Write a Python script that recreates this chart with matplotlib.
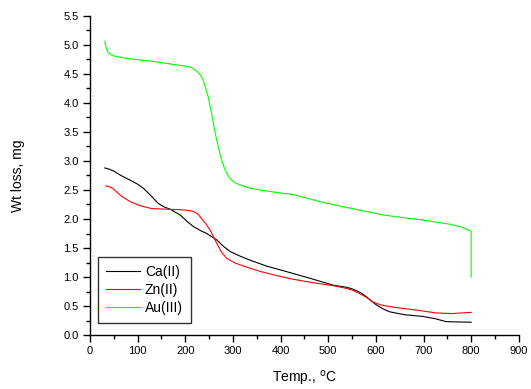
import numpy as np
import matplotlib
matplotlib.use('Agg')
from matplotlib import pyplot as plt
from matplotlib.ticker import MultipleLocator

plt.rcParams['font.family'] = ['Liberation Sans', 'DejaVu Sans']

# Ca(II)
ca_t = [31, 40, 49, 65, 84, 100, 112, 128, 143, 155, 168, 189, 205, 217, 232, 245, 266,
        280, 294, 315, 336, 370, 405, 461, 510, 540, 552, 568, 580, 590, 601, 615, 629,
        660, 699, 725, 748, 800]
ca_w = [2.88, 2.86, 2.83, 2.75, 2.67, 2.6, 2.53, 2.4, 2.27, 2.21, 2.17, 2.07, 1.95, 1.87,
        1.8, 1.75, 1.64, 1.53, 1.44, 1.36, 1.29, 1.19, 1.11, 0.98, 0.86, 0.82, 0.79, 0.73,
        0.66, 0.59, 0.52, 0.45, 0.40, 0.35, 0.32, 0.28, 0.23, 0.22]

# Zn(II)
zn_t = [33, 40, 49, 65, 84, 105, 129, 160, 189, 205, 217, 226, 234, 243, 252, 259, 266,
        276, 287, 305, 329, 360, 399, 427, 470, 510, 535, 552, 565, 580, 594, 610, 629,
        655, 685, 727, 760, 800]
zn_w = [2.57, 2.56, 2.52, 2.4, 2.30, 2.23, 2.18, 2.17, 2.16, 2.15, 2.13, 2.09, 2.01, 1.92,
        1.81, 1.7, 1.58, 1.43, 1.32, 1.24, 1.17, 1.09, 1.01, 0.96, 0.9, 0.85, 0.81, 0.77,
        0.72, 0.65, 0.57, 0.52, 0.49, 0.46, 0.43, 0.38, 0.37, 0.39]

# Au(III)
au_t = [31, 33, 35, 38, 44, 55, 84, 130, 170, 189, 205, 215, 224, 231, 236, 240, 244, 248,
        252, 257, 261, 266, 271, 277, 282, 287, 293, 300, 308, 315, 325, 336, 365, 399, 427,
        450, 482, 520, 550, 615, 660, 700, 755, 780, 797, 800, 800]
au_w = [5.06, 4.98, 4.92, 4.87, 4.83, 4.8, 4.76, 4.72, 4.67, 4.65, 4.63, 4.6, 4.55, 4.49,
        4.42, 4.33, 4.22, 4.11, 3.95, 3.75, 3.55, 3.36, 3.18, 3.0, 2.88, 2.79, 2.71, 2.65,
        2.61, 2.59, 2.56, 2.53, 2.49, 2.45, 2.42, 2.37, 2.3, 2.23, 2.18, 2.07, 2.02, 1.98,
        1.91, 1.86, 1.8, 1.79, 1.0]

fig = plt.figure(figsize=(5.31, 3.89), dpi=100)
ax = fig.add_axes([0.1695, 0.1388, 0.8075, 0.8201])

ax.plot(ca_t, ca_w, color='black', lw=0.8, label='Ca(II)')
ax.plot(zn_t, zn_w, color='#ff0000', lw=0.8, label='Zn(II)')
ax.plot(au_t, au_w, color='#00ff00', lw=0.8, label='Au(III)')

ax.set_xlim(0, 900)
ax.set_ylim(0, 5.5)
ax.xaxis.set_major_locator(MultipleLocator(100))
ax.xaxis.set_minor_locator(MultipleLocator(50))
ax.yaxis.set_major_locator(MultipleLocator(0.5))
ax.yaxis.set_minor_locator(MultipleLocator(0.25))
ax.yaxis.set_major_formatter(matplotlib.ticker.FormatStrFormatter('%.1f'))

ax.spines['top'].set_visible(False)
ax.spines['right'].set_visible(False)
for s in ['left', 'bottom']:
    ax.spines[s].set_linewidth(1.0)
ax.tick_params(which='major', direction='out', length=5, width=1.0, labelsize=8, pad=3)
ax.tick_params(which='minor', direction='out', length=3, width=1.0)

ax.set_xlabel('Temp., $^\\mathrm{o}$C', fontsize=10, labelpad=9)
ax.set_ylabel('Wt loss, mg', fontsize=10, labelpad=28)

leg = ax.legend(loc='lower left', bbox_to_anchor=(0.0, 0.012), fontsize=10,
                frameon=True, fancybox=False, handlelength=2.45, borderpad=0.55,
                labelspacing=0.3, handletextpad=0.35, borderaxespad=0.6)
leg.get_frame().set_edgecolor('black')
leg.get_frame().set_linewidth(1.0)

plt.savefig('out.png', dpi=100)
